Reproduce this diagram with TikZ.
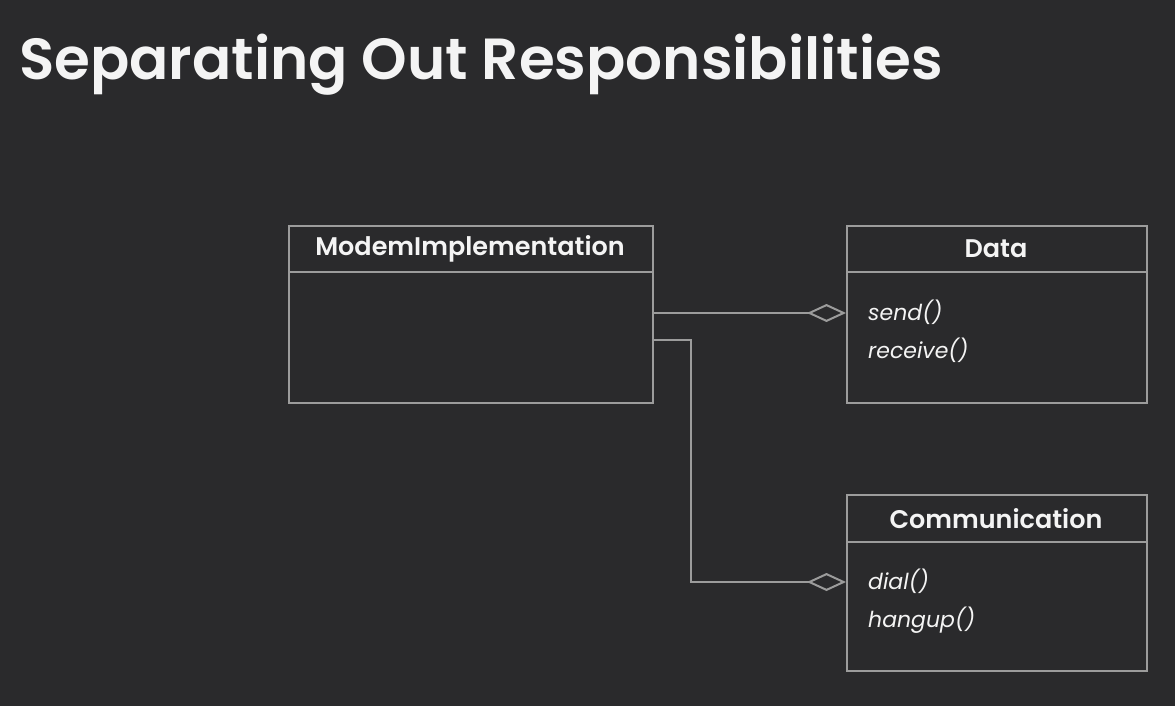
\documentclass[tikz,border=0pt]{standalone}
\usepackage{fontspec}
\setmainfont{Poppins}[BoldFont={* SemiBold},BoldItalicFont={* SemiBold Italic}]
\usetikzlibrary{arrows.meta}
\definecolor{bg}{HTML}{2A2A2C}
\definecolor{ln}{HTML}{9C9C9C}
\definecolor{tx}{HTML}{F4F4F4}
\begin{document}
\begin{tikzpicture}[x=1pt,y=-1pt,
  classbox/.style={draw=ln,line width=2pt,rectangle,anchor=north west,inner sep=0pt},
  headtext/.style={text=tx,font=\fontsize{25.5}{30}\selectfont\bfseries,anchor=center},
  methtext/.style={text=tx,font=\fontsize{22}{38}\selectfont\itshape,anchor=north west,align=left,inner sep=0pt},
  conn/.style={draw=ln,line width=2pt,-{Diamond[open,length=39pt,width=18pt,line width=2pt]}}]
\fill[bg] (0,0) rectangle (1175,706);
\useasboundingbox (0,0) rectangle (1175,706);
\node[text=tx,font=\fontsize{58}{64}\selectfont\bfseries,anchor=base west,inner sep=0pt] (title) at (19,80) {Separating Out Responsibilities};
% boxes
\node[classbox,minimum width=364pt,minimum height=177pt] (modem) at (288,225) {};
\node[classbox,minimum width=300pt,minimum height=177pt] (data) at (846,225) {};
\node[classbox,minimum width=300pt,minimum height=176pt] (comm) at (846,494) {};
\draw[ln,line width=2pt] (288,272) -- (652,272);
\draw[ln,line width=2pt] (846,272) -- (1146,272);
\draw[ln,line width=2pt] (846,542) -- (1146,542);
\node[headtext] (modemh) at (470,249) {ModemImplementation};
\node[headtext] (datah) at (996,249) {Data};
\node[headtext] (commh) at (996,519) {Communication};
\node[methtext] (datam) at (868,300) {send()\\receive()};
\node[methtext] (commm) at (868,569) {dial()\\hangup()};
% connectors
\coordinate (bend1) at (691,340);
\coordinate (bend2) at (691,582);
\draw[conn] (modem.east |- 0,313) -- (data.west |- 0,313);
\draw[conn] (modem.east |- bend1) -- (bend1) -- (bend2) -- (comm.west |- bend2);
\end{tikzpicture}
\end{document}
